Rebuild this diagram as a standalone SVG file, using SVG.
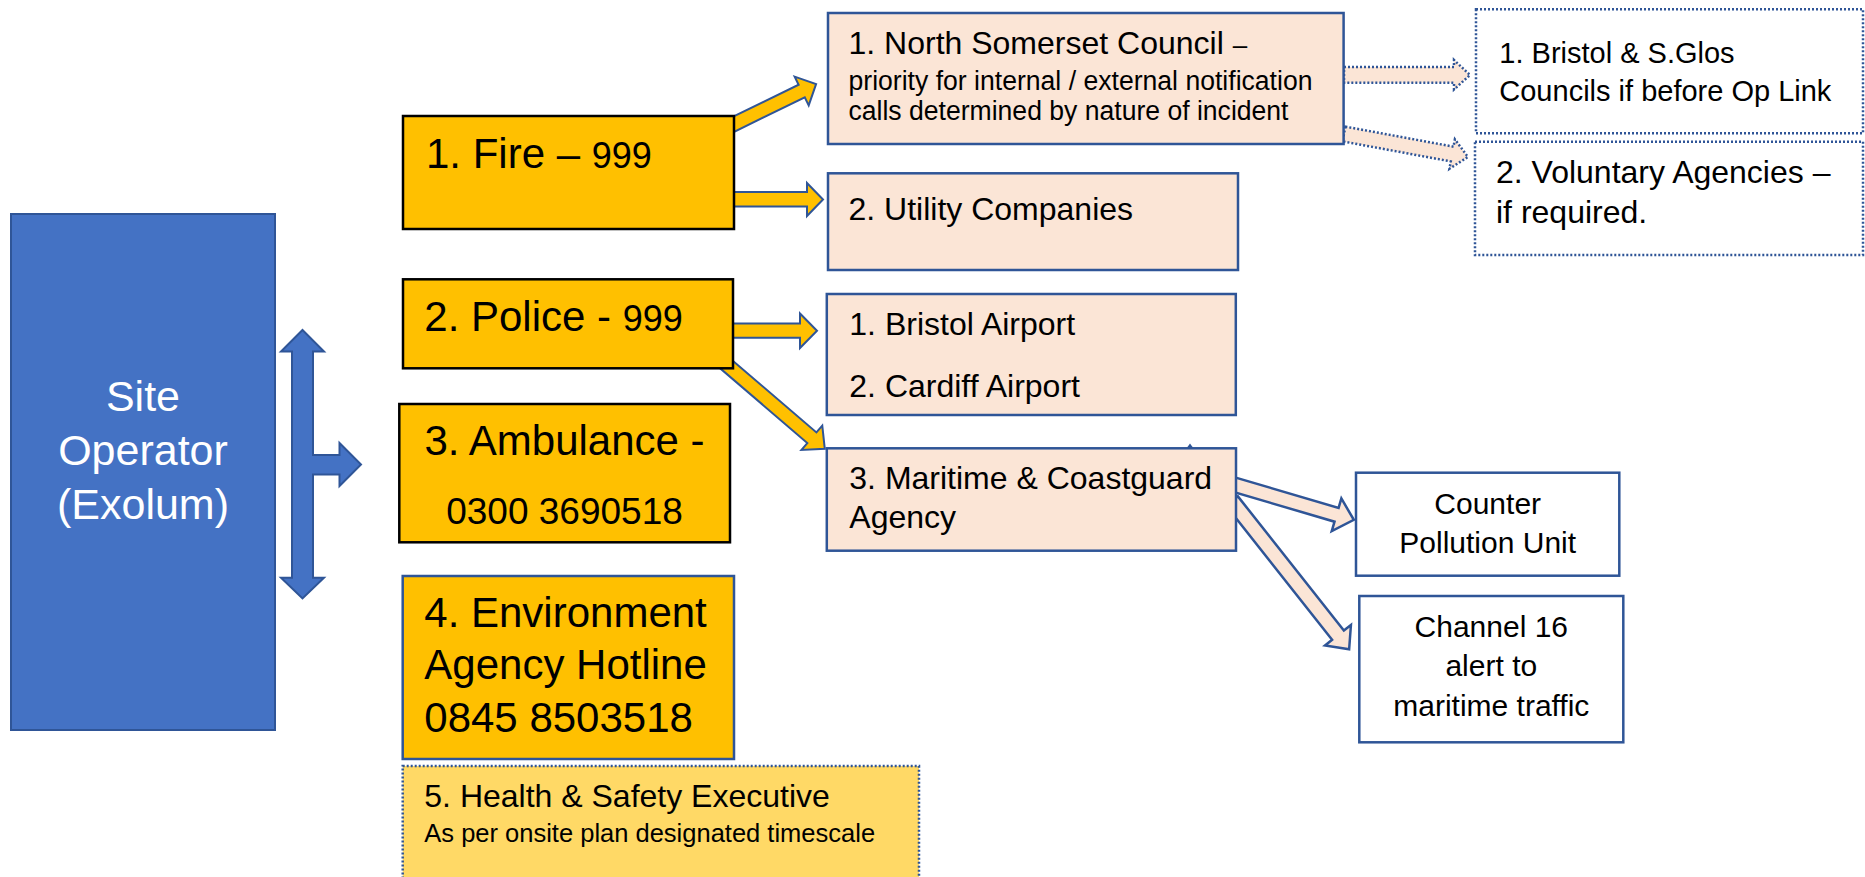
<svg xmlns="http://www.w3.org/2000/svg" width="1865" height="877" viewBox="0 0 1865 877">
<style>
text{font-family:"Liberation Sans",Arial,sans-serif;fill:#000}
.op{fill:#4472C4;stroke:#2F5597;stroke-width:2}
.svc{fill:#FFC000;stroke:#000;stroke-width:2.5}
.svcb{fill:#FFC000;stroke:#2F5597;stroke-width:2.5}
.peach{fill:#FBE5D6;stroke:#2F5597;stroke-width:2.5}
.white{fill:#FFFFFF;stroke:#2F5597;stroke-width:2.5}
.dot{fill:#FFFFFF;stroke:#2F5597;stroke-width:2.5;stroke-dasharray:2 2}
.hse{fill:#FFD966;stroke:#2F5597;stroke-width:2.5;stroke-dasharray:2 2}
.ya{fill:#FFC000;stroke:#2F5597;stroke-width:2;stroke-linejoin:miter}
.pa{fill:#FBE5D6;stroke:#2F5597;stroke-width:2.5;stroke-linejoin:miter}
.pd{fill:#FBE5D6;stroke:#2F5597;stroke-width:2.5;stroke-dasharray:2 2}
</style>
<rect width="1865" height="877" fill="#FFFFFF"/>
<g id="connectors">
  <!-- operator double arrow -->
  <path class="op" d="M302.5,330 L324,351.5 L313,351.5 L313,455 L339.5,455 L339.5,443 L361,464.5 L339.5,486 L339.5,474.5 L313,474.5 L313,577.7 L324,577.7 L302.5,598.4 L281,577.7 L292,577.7 L292,351.5 L281,351.5 Z"/>
  <!-- Fire -> NSC -->
  <path class="ya" transform="translate(728,127) rotate(-26)" d="M0,-7 L82,-7 L82,-16 L98,0 L82,16 L82,7 L0,7 Z"/>
  <!-- Fire -> Utility -->
  <path class="ya" d="M728,192 L807,192 L807,183 L823,199.5 L807,216 L807,206.5 L728,206.5 Z"/>
  <!-- Police -> Airports -->
  <path class="ya" d="M728,323.5 L800,323.5 L800,313.5 L817,330.7 L800,348 L800,337.8 L728,337.8 Z"/>
  <!-- Police -> Maritime -->
  <path class="ya" transform="translate(720,359) rotate(40.6)" d="M0,-7 L121,-7 L121,-16 L138,0 L121,16 L121,7 L0,7 Z"/>
  <!-- NSC -> Bristol & S.Glos (dotted) -->
  <path class="pd" d="M1344,67 L1454,67 L1454,60 L1470,75 L1454,89.5 L1454,82.7 L1344,82.7 Z"/>
  <!-- NSC -> Voluntary (dotted) -->
  <path class="pd" transform="translate(1344,134) rotate(10.5)" d="M0,-7.5 L110,-7.5 L110,-15 L126,0 L110,15 L110,7.5 L0,7.5 Z"/>
  <!-- Maritime -> Counter Pollution -->
  <path class="pa" transform="translate(1232,484) rotate(16.4)" d="M0,-7.2 L109,-7.2 L109,-17 L127,0 L109,17 L109,7.2 L0,7.2 Z"/>
  <!-- Maritime -> Channel 16 -->
  <path class="pa" transform="translate(1232,501) rotate(51.7)" d="M0,-7.5 L171,-7.5 L171,-16.5 L189,0 L171,16.5 L171,7.5 L0,7.5 Z"/>
  <!-- small notch on maritime box -->
  <path d="M1186,449 L1190,443.5 L1194,449 Z" fill="#2F5597"/>
</g>
<g id="site-operator">
  <rect class="op" x="11" y="214" width="264" height="516"/>
  <text x="143" y="410.7" font-size="43" text-anchor="middle" style="fill:#FFFFFF">Site</text>
  <text x="143" y="465.2" font-size="43" text-anchor="middle" style="fill:#FFFFFF">Operator</text>
  <text x="143" y="518.5" font-size="43" text-anchor="middle" style="fill:#FFFFFF">(Exolum)</text>
</g>
<g id="fire">
  <rect class="svc" x="403" y="116" width="331" height="113"/>
  <text x="426" y="168.3" font-size="42">1. Fire – <tspan font-size="36">999</tspan></text>
</g>
<g id="police">
  <rect class="svc" x="403" y="279.3" width="330" height="89"/>
  <text x="424.3" y="330.7" font-size="42">2. Police - <tspan font-size="36">999</tspan></text>
</g>
<g id="ambulance">
  <rect class="svc" x="399.3" y="404" width="330.7" height="138.3"/>
  <text x="564.5" y="455" font-size="42" text-anchor="middle">3. Ambulance -</text>
  <text x="564.5" y="524" font-size="37" text-anchor="middle">0300 3690518</text>
</g>
<g id="environment">
  <rect class="svcb" x="402.7" y="576" width="331.3" height="183"/>
  <text x="424.3" y="626.7" font-size="42">4. Environment</text>
  <text x="424.3" y="679" font-size="42">Agency Hotline</text>
  <text x="424.3" y="731.7" font-size="42">0845 8503518</text>
</g>
<g id="hse">
  <rect class="hse" x="402.7" y="766" width="516.3" height="120"/>
  <text x="424.3" y="806.7" font-size="32">5. Health &amp; Safety Executive</text>
  <text x="424.3" y="841.7" font-size="25.5">As per onsite plan designated timescale</text>
</g>
<g id="nsc">
  <rect class="peach" x="828" y="13" width="515.6" height="131"/>
  <text x="848.5" y="54.3" font-size="32">1. North Somerset Council <tspan font-size="26">–</tspan></text>
  <text x="848.5" y="90" font-size="27" textLength="464" lengthAdjust="spacingAndGlyphs">priority for internal / external notification</text>
  <text x="848.5" y="120" font-size="27" textLength="440" lengthAdjust="spacingAndGlyphs">calls determined by nature of incident</text>
</g>
<g id="utility">
  <rect class="peach" x="828" y="173.3" width="410" height="96.7"/>
  <text x="848.5" y="220" font-size="32">2. Utility Companies</text>
</g>
<g id="airports">
  <rect class="peach" x="826.8" y="294" width="409" height="121"/>
  <text x="849.3" y="335" font-size="32">1. Bristol Airport</text>
  <text x="849.3" y="396.7" font-size="32">2. Cardiff Airport</text>
</g>
<g id="maritime">
  <rect class="peach" x="826.8" y="448.3" width="409.2" height="102.4"/>
  <text x="849.3" y="489.3" font-size="32">3. Maritime &amp; Coastguard</text>
  <text x="849.3" y="528.3" font-size="32">Agency</text>
</g>
<g id="bristol-sglos">
  <rect class="dot" x="1476" y="9.3" width="387" height="124"/>
  <text x="1499.3" y="63.3" font-size="29">1. Bristol &amp; S.Glos</text>
  <text x="1499.3" y="100.7" font-size="29">Councils if before Op Link</text>
</g>
<g id="voluntary">
  <rect class="dot" x="1475" y="141.7" width="388" height="113.3"/>
  <text x="1496" y="183.3" font-size="32">2. Voluntary Agencies –</text>
  <text x="1496" y="223.3" font-size="32">if required.</text>
</g>
<g id="counter-pollution">
  <rect class="white" x="1356" y="472.7" width="263.3" height="103"/>
  <text x="1487.7" y="514" font-size="30" text-anchor="middle">Counter</text>
  <text x="1487.7" y="553.3" font-size="30" text-anchor="middle">Pollution Unit</text>
</g>
<g id="channel16">
  <rect class="white" x="1359.3" y="596" width="264" height="146.3"/>
  <text x="1491.3" y="636.7" font-size="30" text-anchor="middle">Channel 16</text>
  <text x="1491.3" y="675.7" font-size="30" text-anchor="middle">alert to</text>
  <text x="1491.3" y="715.7" font-size="30" text-anchor="middle">maritime traffic</text>
</g>
</svg>
